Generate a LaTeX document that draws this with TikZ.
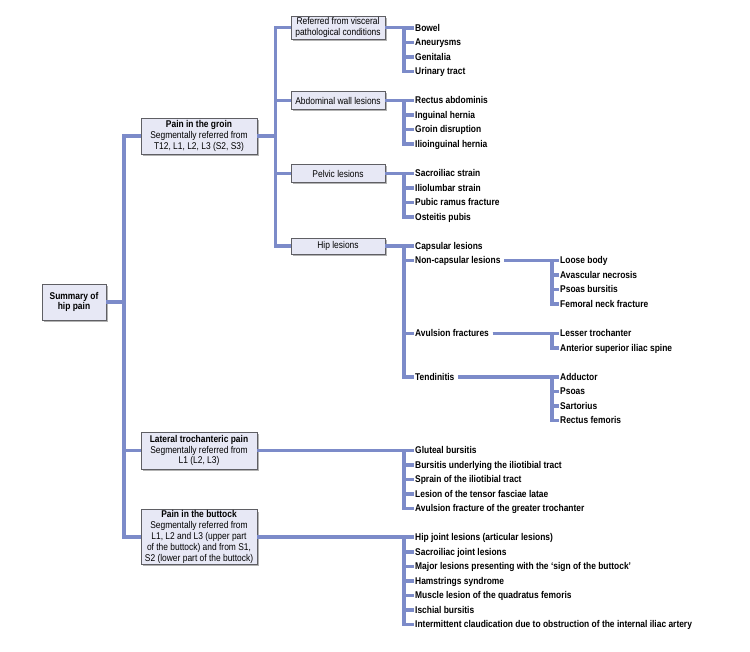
\documentclass[tikz,border=0pt]{standalone}
\usepackage{fontspec}
\setmainfont[FakeStretch=0.86]{Liberation Sans}
\usetikzlibrary{shadows}
\definecolor{lineblue}{RGB}{124,139,201}
\definecolor{boxfill}{RGB}{231,232,245}
\definecolor{boxdraw}{RGB}{95,95,100}
\newcommand\fsz{\fontsize{9.8}{10.8}\selectfont}
\tikzset{
  conn/.style={draw=lineblue, line width=3.2pt},
  hbox/.style={draw=boxdraw, fill=boxfill, line width=0.7pt, align=center, inner sep=1pt,
    font=\fsz, drop shadow={shadow xshift=1.8pt, shadow yshift=-1.8pt, fill=black!50, opacity=0.6}},
  lvone/.style={hbox, minimum width=116pt},
  lvtwo/.style={hbox, minimum width=94pt, minimum height=18pt},
  leaf/.style={anchor=west, font=\fsz\bfseries, inner xsep=1.5pt, inner ysep=0pt, text height=8.2pt, text depth=2pt},
}
\begin{document}
\begin{tikzpicture}[x=1pt,y=-1pt]
\useasboundingbox (0,0) rectangle (750,651);
% boxes
\node[hbox, minimum width=64pt, minimum height=36pt] (summary) at (74,302) {\textbf{Summary of}\\\textbf{hip pain}};
\node[lvone, minimum height=36pt] (groin) at (199,136) {\textbf{Pain in the groin}\\Segmentally referred from\\T12, L1, L2, L3 (S2, S3)};
\node[lvone, minimum height=37pt] (lateral) at (199,450.5) {\textbf{Lateral trochanteric pain}\\Segmentally referred from\\L1 (L2, L3)};
\node[lvone, minimum height=54pt] (buttock) at (199,537) {\textbf{Pain in the buttock}\\Segmentally referred from\\L1, L2 and L3 (upper part\\of the buttock) and from S1,\\S2 (lower part of the buttock)};
\node[lvtwo, minimum height=23pt] (referred) at (338,27.5) {Referred from visceral\\pathological conditions};
\node[lvtwo] (abdominal) at (338,100.5) {Abdominal wall lesions};
\node[lvtwo] (pelvic) at (338,173.5) {Pelvic lesions};
\node[lvtwo, minimum height=16pt] (hip) at (338,246) {Hip lesions};
% leaves
\node[leaf] (bowel) at (413.5,28) {Bowel};
\node[leaf] (aneurysms) at (413.5,42.5) {Aneurysms};
\node[leaf] (genitalia) at (413.5,57) {Genitalia};
\node[leaf] (urinary) at (413.5,71.5) {Urinary tract};
\node[leaf] (rectusab) at (413.5,100.5) {Rectus abdominis};
\node[leaf] (inguinal) at (413.5,115) {Inguinal hernia};
\node[leaf] (groindis) at (413.5,129.5) {Groin disruption};
\node[leaf] (ilioing) at (413.5,144) {Ilioinguinal hernia};
\node[leaf] (sacrostrain) at (413.5,173.5) {Sacroiliac strain};
\node[leaf] (iliolumbar) at (413.5,188) {Iliolumbar strain};
\node[leaf] (pubic) at (413.5,202.5) {Pubic ramus fracture};
\node[leaf] (osteitis) at (413.5,217) {Osteitis pubis};
\node[leaf] (capsular) at (413.5,246) {Capsular lesions};
\node[leaf] (noncap) at (413.5,260.5) {Non-capsular lesions};
\node[leaf] (avulsion) at (413.5,333.5) {Avulsion fractures};
\node[leaf] (tendinitis) at (413.5,377) {Tendinitis};
\node[leaf] (loose) at (558.5,260.5) {Loose body};
\node[leaf] (avascular) at (558.5,275) {Avascular necrosis};
\node[leaf] (psoasb) at (558.5,289.5) {Psoas bursitis};
\node[leaf] (femoral) at (558.5,304) {Femoral neck fracture};
\node[leaf] (lesser) at (558.5,333.5) {Lesser trochanter};
\node[leaf] (anterior) at (558.5,348) {Anterior superior iliac spine};
\node[leaf] (adductor) at (558.5,377) {Adductor};
\node[leaf] (psoas) at (558.5,391.5) {Psoas};
\node[leaf] (sartorius) at (558.5,406) {Sartorius};
\node[leaf] (rectusfem) at (558.5,420.5) {Rectus femoris};
\node[leaf] (gluteal) at (413.5,450.5) {Gluteal bursitis};
\node[leaf] (bursitis) at (413.5,465) {Bursitis underlying the iliotibial tract};
\node[leaf] (sprain) at (413.5,479.5) {Sprain of the iliotibial tract};
\node[leaf] (tensor) at (413.5,494) {Lesion of the tensor fasciae latae};
\node[leaf] (greater) at (413.5,508.5) {Avulsion fracture of the greater trochanter};
\node[leaf] (hipjoint) at (413.5,537) {Hip joint lesions (articular lesions)};
\node[leaf] (sacrojoint) at (413.5,552) {Sacroiliac joint lesions};
\node[leaf] (major) at (413.5,566.5) {Major lesions presenting with the ‘sign of the buttock’};
\node[leaf] (hamstrings) at (413.5,581) {Hamstrings syndrome};
\node[leaf] (quadratus) at (413.5,595.5) {Muscle lesion of the quadratus femoris};
\node[leaf] (ischial) at (413.5,610) {Ischial bursitis};
\node[leaf] (claudication) at (413.5,624.5) {Intermittent claudication due to obstruction of the internal iliac artery};
% trunk coordinates
\coordinate (tone) at (124,0);
\coordinate (ttwo) at (275.5,0);
\coordinate (vx) at (404,0);
\coordinate (vy) at (552,0);
\begin{scope}[on background layer/.try]
\foreach \b in {groin,lateral,buttock}
  \draw[conn] (summary.east) -- (summary.east -| tone) |- (\b.west);
\foreach \b in {referred,abdominal,pelvic,hip}
  \draw[conn] (groin.east) -- (groin.east -| ttwo) |- (\b.west);
\foreach \p/\l in {referred/bowel,referred/aneurysms,referred/genitalia,referred/urinary,
  abdominal/rectusab,abdominal/inguinal,abdominal/groindis,abdominal/ilioing,
  pelvic/sacrostrain,pelvic/iliolumbar,pelvic/pubic,pelvic/osteitis,
  hip/capsular,hip/noncap,hip/avulsion,hip/tendinitis,
  lateral/gluteal,lateral/bursitis,lateral/sprain,lateral/tensor,lateral/greater,
  buttock/hipjoint,buttock/sacrojoint,buttock/major,buttock/hamstrings,buttock/quadratus,buttock/ischial,buttock/claudication}
  \draw[conn] (\p.east) -- (\p.east -| vx) |- (\l.west);
\foreach \p/\l in {noncap/loose,noncap/avascular,noncap/psoasb,noncap/femoral,
  avulsion/lesser,avulsion/anterior,
  tendinitis/adductor,tendinitis/psoas,tendinitis/sartorius,tendinitis/rectusfem}
  \draw[conn] ([xshift=2pt]\p.east) -- (\p.east -| vy) |- (\l.west);
\end{scope}
\end{tikzpicture}
\end{document}
